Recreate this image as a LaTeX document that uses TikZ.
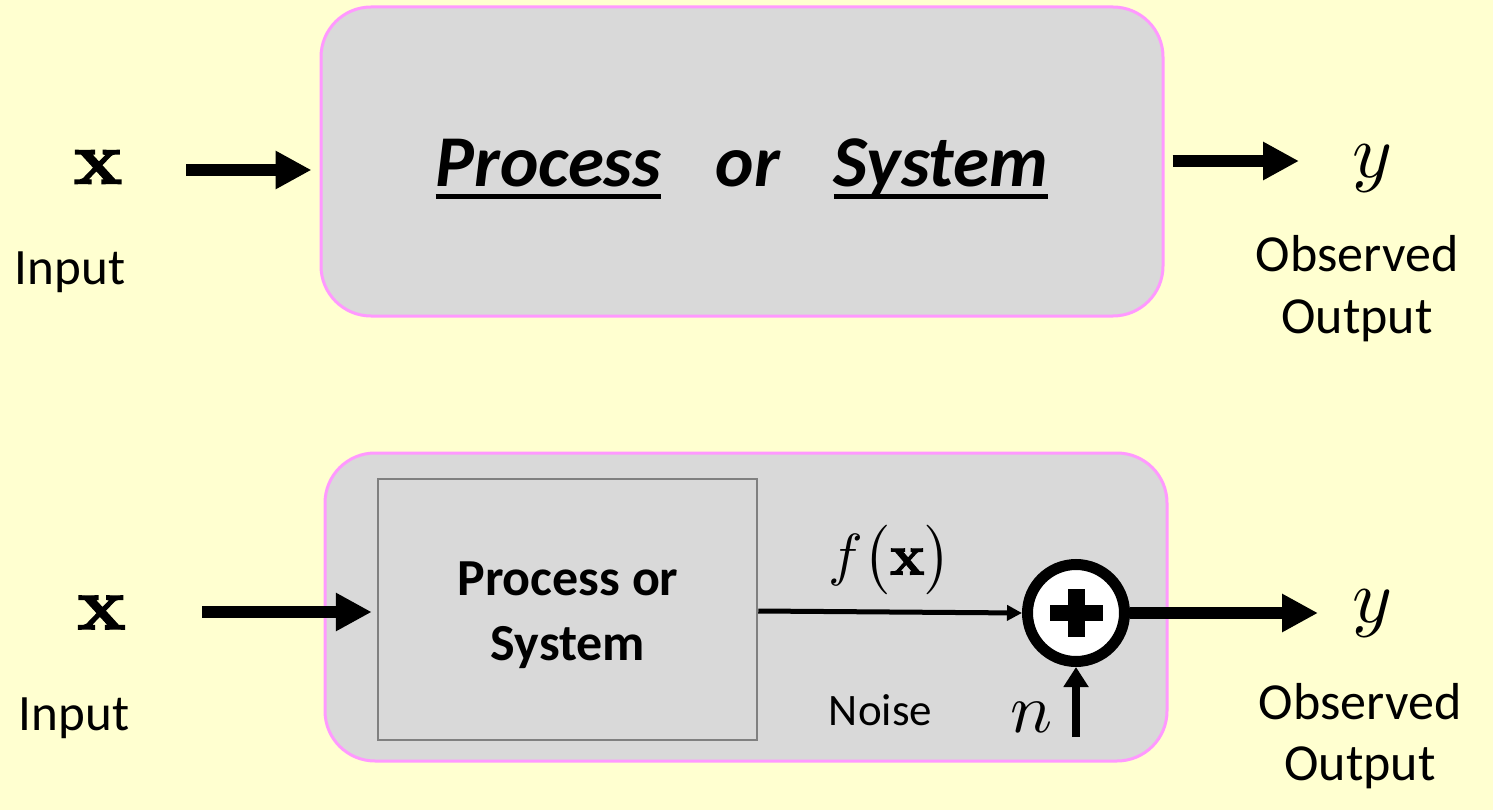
\documentclass[tikz,border=0pt]{standalone}
\usepackage{graphicx}
\usepackage[no-math]{fontspec}
\setmainfont{Carlito}
\newfontfamily\lmbold{lmroman10-bold.otf}[FakeBold=1.8]
\usetikzlibrary{arrows.meta}
\definecolor{bgyellow}{RGB}{255,255,208}
\definecolor{boxgray}{RGB}{217,217,217}
\definecolor{pinkedge}{RGB}{255,153,255}
\definecolor{innergray}{RGB}{128,128,128}

% underline sitting at a fixed depth below the baseline
\newcommand{\fixedul}[1]{{\setbox0\hbox{#1}\rlap{\rule[-12pt]{\wd0}{5pt}}\box0}}
% math set at 10pt and enlarged by the given factor
\newcommand{\bigmath}[2]{\scalebox{#1}{$#2$}}
% bold upright vector letter
\newcommand{\vecx}{\hbox{\lmbold x}}

\tikzset{
  outerbox/.style={draw=pinkedge, line width=3pt, fill=boxgray, rounded corners=50pt,
    minimum width=842pt, inner sep=0pt},
  procbox/.style={draw=innergray, line width=2.5pt, fill=boxgray, inner sep=0pt},
  sumnode/.style={circle, draw=black, fill=white, line width=11pt, minimum size=97pt, inner sep=0pt},
  bigarrow/.style={line width=12pt, -{Triangle[length=36pt,width=36pt]}},
  thinarrow/.style={line width=5pt, -{Triangle[length=15pt,width=15pt]}},
  noisearrow/.style={line width=8pt, -{Triangle[length=20pt,width=24pt]}},
  lbl/.style={inner sep=0pt, anchor=base, font=\fontsize{51}{60}\selectfont},
  mathlbl/.style={inner sep=0pt, font=\fontsize{10}{12}\selectfont},
  titlefont/.style={inner sep=0pt, anchor=base, font=\fontsize{73}{80}\selectfont\bfseries\itshape},
}

\begin{document}
\begin{tikzpicture}[x=1pt,y=-1pt]
\fill[bgyellow] (0,0) rectangle (1493,810);
\useasboundingbox (0,0) rectangle (1493,810);

% ---------- upper diagram ----------
\node[outerbox, minimum height=309pt] (sys) at (742,161.5) {};
\node[titlefont] (tproc) at (548.5,187) {\fixedul{Process}};
\node[titlefont] (tor) at (748,187) {or};
\node[titlefont] (tsys) at (941,187) {\fixedul{System}};

\node[mathlbl] (xtop) at (98,167) {\scalebox{8.1}[7.5]{\vecx}};
\node[lbl] (intop) at (70,284) {Input};
\node[mathlbl] (ytop) at (1372,169) {\bigmath{7.6}{y}};
\node[lbl, font=\fontsize{52}{60}\selectfont] (obstop) at (1357,272) {Observed};
\node[lbl, font=\fontsize{52}{60}\selectfont] (outtop) at (1357,333) {Output};

\coordinate (inA) at (186,170);
\coordinate (outA) at (1299,161);
\draw[bigarrow] (inA) -- ([xshift=-8pt]sys.west |- inA);
\draw[bigarrow] ([xshift=8pt]sys.east |- outA) -- (outA);

% ---------- lower diagram ----------
\node[outerbox, minimum height=308pt] (sys2) at (746,607) {};
\node[procbox, minimum width=379pt, minimum height=261pt] (proc) at (567.5,609.5) {};
\node[inner sep=0pt, anchor=base, font=\fontsize{52}{60}\selectfont\bfseries] (pline1) at (568,595) {Process or};
\node[inner sep=0pt, anchor=base, font=\fontsize{52}{60}\selectfont\bfseries] (pline2) at (568,660) {System};

\node[sumnode] (sum) at (1076,613) {};
\fill[black] ([xshift=-26.5pt,yshift=-8pt]sum.center) rectangle ([xshift=26.5pt,yshift=8pt]sum.center);
\fill[black] ([xshift=-8.5pt,yshift=-24pt]sum.center) rectangle ([xshift=8.5pt,yshift=24pt]sum.center);

\node[mathlbl, anchor=base] (fx) at (890,574.5) {\bigmath{5.8}{f\bigl(\vecx\bigr)}};
\node[lbl, font=\fontsize{45}{50}\selectfont] (noise) at (880.5,725) {Noise};
\node[mathlbl, anchor=base] (nlbl) at (1031,732) {\bigmath{7}{n}};

\node[mathlbl] (xbot) at (101.5,612.5) {\scalebox{8.1}[7.5]{\vecx}};
\node[lbl] (inbot) at (74,730) {Input};
\node[mathlbl] (ybot) at (1372,614) {\bigmath{7.6}{y}};
\node[lbl, font=\fontsize{52}{60}\selectfont] (obsbot) at (1360,719) {Observed};
\node[lbl, font=\fontsize{52}{60}\selectfont] (outbot) at (1360,780) {Output};

\coordinate (inB) at (202,612);
\coordinate (outB) at (1318,613);
\coordinate (noiseB) at (1076,737);
\draw[bigarrow] (inB) -- ([xshift=-5pt]proc.west |- inB);
\draw[thinarrow] ([yshift=-1.5pt]proc.east) -- (sum.west);
\draw[bigarrow] (sum.east) -- (outB);
\draw[noisearrow] (noiseB) -- (sum.south);
\end{tikzpicture}
\end{document}
